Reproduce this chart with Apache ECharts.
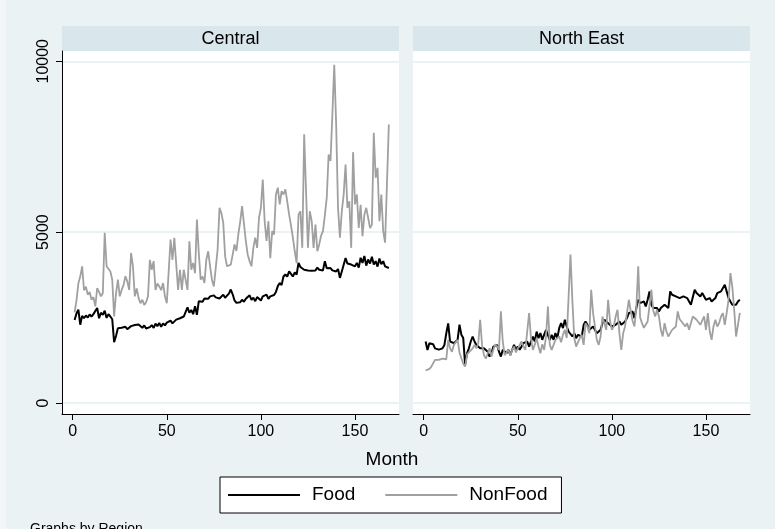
<!DOCTYPE html>
<html><head><meta charset="utf-8">
<script src="https://cdn.jsdelivr.net/npm/echarts@6/dist/echarts.min.js"></script>
<style>html,body{margin:0;padding:0;background:#EAF2F3}#c{width:775px;height:529px}</style>
</head><body><div id="c"></div>
<script>
const panels = ['Central', 'North East'];
const seriesNames = ['Food', 'NonFood'];
const xTicks = [0, 50, 100, 150];
const yTicks = [0, 5000, 10000];

const centralFood = [2430,2620,2730,2290,2550,2480,2560,2500,2590,2530,2600,2560,2780,2480,2640,2580,2700,2490,2600,2530,
2450,1780,1960,2190,2150,2200,2180,2230,2160,2210,2250,2200,2280,2230,2300,2250,2200,2270,2180,2230,
2220,2280,2200,2320,2250,2340,2230,2330,2270,2350,2300,2410,2330,2380,2440,2400,2480,2450,2530,2480,
2800,2640,2720,2600,2830,2580,2980,3020,2960,3060,3100,3050,3120,3080,3150,3090,3130,3060,3100,3170,
3080,3140,3200,3320,3180,3000,2930,2980,2950,3020,2960,3050,3000,3150,3020,3080,2980,3100,3060,3000,
3120,3080,3170,3050,3120,3090,3160,3250,3420,3510,3450,3700,3760,3700,3850,3780,3700,3820,3760,4100,
3980,4020,3900,3950,3880,3930,3870,3920,3880,3960,3900,3950,3880,4150,3940,3900,3950,3880,3930,3850,
3920,3660,3850,3900,4240,4080,4120,4050,4080,4000,4100,3960,4250,4100,4300,4020,4200,4080,4280,4050,
4150,3990,4230,4060,4150,4000,4050,3950];

const centralNonFood = [2650,3000,3500,3700,4000,3300,3400,3170,3250,3020,3100,2830,3360,3250,3120,3220,4980,4000,3950,3850,
3610,2530,3200,3610,3120,3310,3450,3710,3560,3310,4390,4000,3120,3350,3070,2920,3020,2870,2950,3120,
4190,3900,4150,3310,3500,3410,3300,3510,3120,2920,3850,4780,4190,4830,4780,3310,3900,3310,3900,3950,
3310,4730,3900,4100,3800,5370,4390,3610,3700,3510,4190,4440,4000,3600,3410,3360,4490,5710,5560,5270,
4290,4000,4050,4050,4340,4640,4450,4930,5300,5760,5810,4740,4340,4150,4000,4540,4840,4540,5420,5710,
6540,5320,4740,5320,4240,5030,4930,6100,6300,5810,6200,6100,6250,5900,5510,5200,4840,4440,4090,5510,
5610,4540,7860,6200,4540,5610,5320,4540,5220,4440,4640,4900,5030,5500,6000,7270,7080,8450,9900,8160,
5700,4840,5610,6100,6980,5710,5900,4540,7340,5810,6100,5120,5800,4880,5510,5710,5420,5120,5220,7910,
6590,6880,5320,6100,5030,4690,4640,8150];

const northEastFood = [1800,1550,1750,1700,1720,1600,1580,1560,1570,1600,1700,2040,2330,1800,1780,1750,1800,1850,2290,2000,
1900,1115,1450,1600,1800,1946,1800,1700,1650,1600,1650,1600,1555,1500,1360,1457,1650,1604,1700,1500,
1360,1555,1604,1457,1555,1408,1457,1700,1560,1650,1555,1555,1750,1700,1800,1650,1700,1946,1800,2090,
1897,2044,1848,2000,2141,2190,1848,1995,1848,2044,1897,2190,2337,2190,2435,2239,2092,2141,1946,2044,
1897,1995,2044,1946,2288,2386,2288,2141,2190,2239,2288,2044,1995,2141,2337,2435,2386,2337,2288,2239,
2260,2288,2239,2386,2288,2330,2386,2484,2630,2582,2680,2484,2777,3021,2923,2875,2972,2826,3021,3266,
2875,2777,2728,2777,2680,2777,2728,2875,2826,2777,3266,3168,3217,3119,3119,3070,3100,3119,3080,3070,
3021,2875,2875,3315,3217,3266,3119,3217,3168,3021,2972,3070,2972,3021,3070,3217,3168,3266,3315,3462,
3266,3070,2972,2875,2923,2875,2972,3021];

const northEastNonFood = [950,900,1000,1060,1110,1260,1210,1260,1290,1300,1330,1280,1848,1600,1500,1700,1650,1848,1480,1310,
1150,1066,1420,1480,1506,1600,1700,1600,1750,2435,1700,1400,1300,1450,1604,1360,1555,1720,1652,1555,
2680,1800,1400,1457,1555,1380,1550,1650,1480,1600,1560,1799,1652,1555,2092,2630,1900,1555,1700,1897,
1652,1457,1720,1555,1946,2826,1700,1555,1700,1848,1799,1950,1780,2000,2141,1900,1946,4341,3000,1900,
1652,1780,1900,1995,1700,2337,2239,2044,3315,2630,2239,1848,1700,1946,2532,2337,2141,3021,2400,2141,
2239,2532,2728,2044,1555,2044,2239,2630,3021,2700,2400,2239,2800,4000,2500,2337,2200,2239,2386,2380,
3315,2700,2532,2728,2532,2141,1946,2337,2092,1946,2044,2141,2092,2239,2680,2450,2386,2435,2239,2337,
2141,2092,2532,2582,2435,2386,2288,2239,2532,2141,2630,2100,1848,2239,2435,2239,2337,2532,2630,2288,
2630,3021,3800,3400,2728,1946,1897,2640];

const months = centralFood.map((v, i) => i + 1);
const pair = arr => arr.map((v, i) => [months[i], v]);
const panelData = [[centralFood, centralNonFood], [northEastFood, northEastNonFood]];

const FONT = 'Liberation Sans, Arial, sans-serif';
const colors = ['#000000', '#A0A0A0'];
const widths = [2, 1.8];
const gridLeft = [62, 413];
const gridW = 337, gridTop = 51, gridH = 363;

const chart = echarts.init(document.getElementById('c'), null, {renderer: 'canvas'});

const series = [];
panelData.forEach((pd, p) => {
  pd.forEach((arr, s) => {
    series.push({
      name: seriesNames[s], type: 'line', xAxisIndex: p, yAxisIndex: p,
      data: pair(arr), symbol: 'none', showSymbol: false, animation: false,
      lineStyle: {color: colors[s], width: widths[s]}, itemStyle: {color: colors[s]},
      z: 3 + s
    });
  });
});

const graphic = [];
graphic.push({type: 'rect', shape: {x: 0, y: 0, width: 6, height: 529}, style: {fill: '#F2F6F7'}, silent: true});
panels.forEach((name, p) => {
  graphic.push({type: 'rect', shape: {x: gridLeft[p], y: 26, width: gridW, height: 25}, style: {fill: '#D9E6EC'}, silent: true});
  graphic.push({type: 'text', x: gridLeft[p] + gridW / 2, y: 39, style: {text: name, font: '18px ' + FONT, fill: '#000', textAlign: 'center', textVerticalAlign: 'middle'}, silent: true});
});
graphic.push({type: 'text', x: 392, y: 460, style: {text: 'Month', font: '19px ' + FONT, fill: '#000', textAlign: 'center', textVerticalAlign: 'middle'}, silent: true});
graphic.push({type: 'text', x: 30, y: 529, style: {text: 'Graphs by Region', font: '14px ' + FONT, fill: '#000', textAlign: 'left', textVerticalAlign: 'middle'}, silent: true});

const option = {
  backgroundColor: '#EAF2F3',
  animation: false,
  grid: gridLeft.map(l => ({left: l, top: gridTop, width: gridW, height: gridH, show: true, backgroundColor: '#fff', borderWidth: 0, containLabel: false})),
  xAxis: [0, 1].map(p => ({
    type: 'value', gridIndex: p, min: -5.7, max: 173.4,
    axisLine: {show: true, onZero: false, lineStyle: {color: '#000', width: 1}},
    axisTick: {show: true, length: 6, customValues: xTicks, lineStyle: {color: '#000'}},
    axisLabel: {show: true, customValues: xTicks, color: '#000', fontSize: 16, fontFamily: FONT, margin: 10, formatter: v => String(v)},
    splitLine: {show: false}
  })),
  yAxis: [0, 1].map(p => ({
    type: 'value', gridIndex: p, min: -322, max: 10300,
    axisLine: {show: p === 0, onZero: false, lineStyle: {color: '#000', width: 1}},
    axisTick: {show: p === 0, length: 6, customValues: yTicks, lineStyle: {color: '#000'}},
    axisLabel: {show: p === 0, customValues: yTicks, rotate: 90, color: '#000', fontSize: 16, fontFamily: FONT, margin: 10, formatter: v => String(v)},
    splitLine: {show: true, lineStyle: {color: '#EAF2F3', width: 2}}
  })),
  legend: {
    left: 220, top: 477, orient: 'horizontal', data: seriesNames,
    icon: 'rect', itemWidth: 72, itemHeight: 2, itemGap: 30,
    padding: [8, 14, 8, 8],
    backgroundColor: '#fff', borderColor: '#000', borderWidth: 1, borderRadius: 0,
    textStyle: {fontSize: 19, lineHeight: 20, color: '#000', fontFamily: FONT, padding: [0, 0, 0, 7]},
    selectedMode: false
  },
  graphic: graphic,
  series: series
};
chart.setOption(option);
</script>
</body></html>
